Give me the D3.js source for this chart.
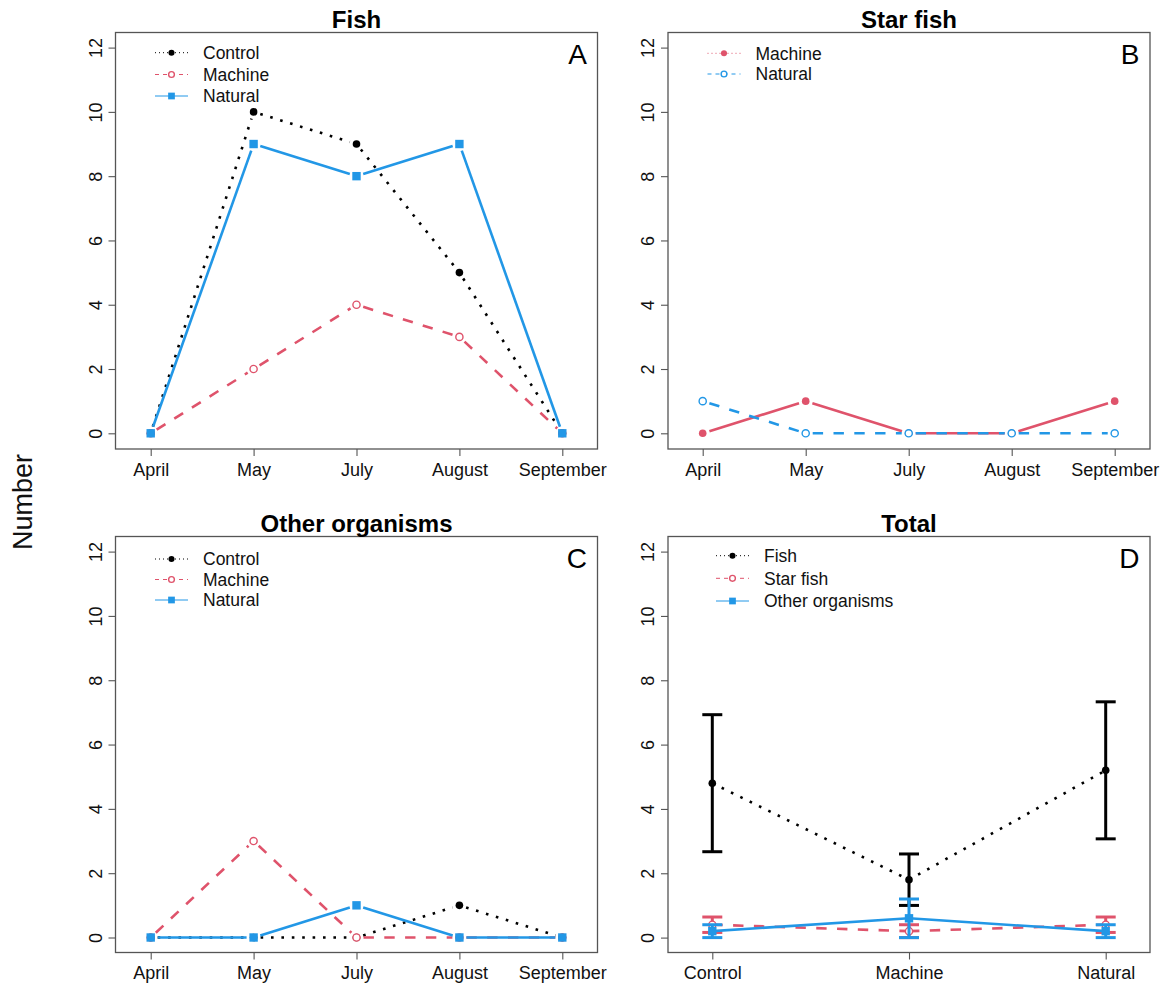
<!DOCTYPE html>
<html>
<head>
<meta charset="utf-8">
<script src="https://cdn.jsdelivr.net/npm/d3@7"></script>
<style>
  body { margin: 0; background: #fff; }
  text { font-family: "Liberation Sans", Arial, sans-serif; }
</style>
</head>
<body>
<script>
// monthly counts per treatment
var months = ["April", "May", "July", "August", "September"];
var fishControl = [0, 10, 9, 5, 0];
var fishMachine = [0, 2, 4, 3, 0];
var fishNatural = [0, 9, 8, 9, 0];
var starMachine = [0, 1, 0, 0, 1];
var starNatural = [1, 0, 0, 0, 0];
var otherControl = [0, 0, 0, 1, 0];
var otherMachine = [0, 3, 0, 0, 0];
var otherNatural = [0, 0, 1, 0, 0];

// totals: mean and error bar ends per treatment
var treatments = ["Control", "Machine", "Natural"];
var totalFishMean = [4.8, 1.8, 5.2];
var totalFishLow = [2.67, 1.0, 3.07];
var totalFishHigh = [6.93, 2.6, 7.33];
var totalStarMean = [0.4, 0.2, 0.4];
var totalStarLow = [0.16, 0, 0.16];
var totalStarHigh = [0.64, 0.4, 0.64];
var totalOtherMean = [0.2, 0.6, 0.2];
var totalOtherLow = [0, 0, 0];
var totalOtherHigh = [0.4, 1.2, 0.4];

var yTicks = [0, 2, 4, 6, 8, 10, 12];

var BLACK = "#000000", RED = "#DF536B", BLUE = "#2297E6";
var lwd = 2.6;
function dashFor(lty, w) {
  if (lty === "dotted") return (1 * w) + "," + (3 * w);
  if (lty === "dashed") return (4 * w) + "," + (4 * w);
  return null;
}

var w = 1168, h = 990;
var svg = d3.select("body").append("svg").attr("width", w).attr("height", h);

var panels = [
  {
    title: "Fish", letter: "A", cats: months,
    box: [115.5, 597.5, 32.5, 449], xr: [150.7, 562.3], yr: [433.3, 47.6], gap: true,
    series: [
      { name: "Control", values: fishControl, color: BLACK, lty: "dotted", pch: "dot" },
      { name: "Machine", values: fishMachine, color: RED, lty: "dashed", pch: "open" },
      { name: "Natural", values: fishNatural, color: BLUE, lty: "solid", pch: "square" }
    ],
    legendRows: [52.7, 74.5, 96]
  },
  {
    title: "Star fish", letter: "B", cats: months,
    box: [668, 1150, 32.5, 449], xr: [702.7, 1114.7], yr: [433.3, 47.6], gap: true,
    series: [
      { name: "Machine", values: starMachine, color: RED, lty: "solid", pch: "dot", legLty: "dotted" },
      { name: "Natural", values: starNatural, color: BLUE, lty: "dashed", pch: "open" }
    ],
    legendRows: [53.3, 74]
  },
  {
    title: "Other organisms", letter: "C", cats: months,
    box: [115.5, 597.5, 536.5, 952.5], xr: [150.7, 562.3], yr: [937.5, 551.6], gap: true,
    series: [
      { name: "Control", values: otherControl, color: BLACK, lty: "dotted", pch: "dot" },
      { name: "Machine", values: otherMachine, color: RED, lty: "dashed", pch: "open" },
      { name: "Natural", values: otherNatural, color: BLUE, lty: "solid", pch: "square" }
    ],
    legendRows: [559, 579.5, 600]
  },
  {
    title: "Total", letter: "D", cats: treatments,
    box: [668, 1150, 536.5, 952.5], xr: [712.3, 1105.7], yr: [937.6, 551.6], gap: false,
    series: [
      { name: "Fish", values: totalFishMean, low: totalFishLow, high: totalFishHigh, color: BLACK, lty: "dotted", pch: "dot" },
      { name: "Star fish", values: totalStarMean, low: totalStarLow, high: totalStarHigh, color: RED, lty: "dashed", pch: "open" },
      { name: "Other organisms", values: totalOtherMean, low: totalOtherLow, high: totalOtherHigh, color: BLUE, lty: "solid", pch: "square" }
    ],
    legendRows: [555.7, 578.3, 601],
    legendX: 716
  }
];

function drawMarker(g, pch, x, y, color, size) {
  if (pch === "dot") {
    g.append("circle").attr("cx", x).attr("cy", y).attr("r", 3.8 * size).attr("fill", color);
  } else if (pch === "open") {
    g.append("circle").attr("cx", x).attr("cy", y).attr("r", 3.6 * size)
      .attr("fill", "#fff").attr("stroke", color).attr("stroke-width", 1.4);
  } else {
    var s = 8.4 * size;
    g.append("rect").attr("x", x - s / 2).attr("y", y - s / 2).attr("width", s).attr("height", s)
      .attr("fill", color);
  }
}

panels.forEach(function (p) {
  var g = svg.append("g");
  var x = d3.scalePoint().domain(p.cats).range(p.xr);
  var y = d3.scaleLinear().domain([0, 12]).range(p.yr);
  var b = p.box;

  // x axis
  var xa = g.append("g").attr("transform", "translate(0," + b[3] + ")")
    .call(d3.axisBottom(x).tickSizeInner(7).tickSizeOuter(0).tickPadding(7));
  xa.select(".domain").remove();
  xa.selectAll("line").attr("stroke", "#555").attr("stroke-width", 1.1);
  xa.selectAll("text").attr("font-size", 18).attr("fill", "#111")
    .style("font-family", "'Liberation Sans', Arial, sans-serif");

  // y axis (labels rotated like R's las=0)
  var ya = g.append("g").attr("transform", "translate(" + b[0] + ",0)")
    .call(d3.axisLeft(y).tickValues(yTicks).tickSizeInner(7).tickSizeOuter(0));
  ya.select(".domain").remove();
  ya.selectAll("line").attr("stroke", "#555").attr("stroke-width", 1.1);
  ya.selectAll("text").attr("font-size", 18).attr("fill", "#111")
    .style("font-family", "'Liberation Sans', Arial, sans-serif")
    .attr("x", null).attr("dy", null).attr("text-anchor", "middle")
    .attr("transform", "translate(-14,0) rotate(-90)");

  // box
  g.append("rect").attr("x", b[0]).attr("y", b[2]).attr("width", b[1] - b[0]).attr("height", b[3] - b[2])
    .attr("fill", "none").attr("stroke", "#555").attr("stroke-width", 1.3);

  // title and letter
  g.append("text").attr("x", (b[0] + b[1]) / 2).attr("y", b[2] - 4.5)
    .attr("text-anchor", "middle").attr("font-size", 24).attr("font-weight", "bold").text(p.title);
  g.append("text").attr("x", b[1] - 10.5).attr("y", b[2] + 31)
    .attr("text-anchor", "end").attr("font-size", 28).text(p.letter);

  // series
  p.series.forEach(function (s) {
    var pts = s.values.map(function (v, i) { return [x(p.cats[i]), y(v)]; });
    var sg = g.append("g");

    if (s.low) {
      var cap = 10;
      s.values.forEach(function (v, i) {
        var cx = x(p.cats[i]);
        var y1 = y(s.low[i]), y2 = y(s.high[i]);
        sg.append("line").attr("x1", cx).attr("x2", cx).attr("y1", y1).attr("y2", y2)
          .attr("stroke", s.color).attr("stroke-width", 3);
        [y1, y2].forEach(function (yy) {
          sg.append("line").attr("x1", cx - cap).attr("x2", cx + cap).attr("y1", yy).attr("y2", yy)
            .attr("stroke", s.color).attr("stroke-width", 3);
        });
      });
    }

    for (var i = 0; i < pts.length - 1; i++) {
      var a = pts[i], c = pts[i + 1];
      var dx = c[0] - a[0], dy = c[1] - a[1];
      var len = Math.sqrt(dx * dx + dy * dy);
      var gap = p.gap ? 7 : 0;
      if (len <= 2 * gap) continue;
      var ux = dx / len, uy = dy / len;
      sg.append("line")
        .attr("x1", a[0] + ux * gap).attr("y1", a[1] + uy * gap)
        .attr("x2", c[0] - ux * gap).attr("y2", c[1] - uy * gap)
        .attr("stroke", s.color).attr("stroke-width", lwd)
        .attr("stroke-dasharray", dashFor(s.lty, lwd));
    }
    pts.forEach(function (pt) { drawMarker(sg, s.pch, pt[0], pt[1], s.color, 1); });
  });

  // legend
  var lx = p.legendX || (b[0] + 39.5);
  p.series.forEach(function (s, i) {
    var ly = p.legendRows[i];
    var lg = g.append("g");
    lg.append("line").attr("x1", lx).attr("x2", lx + 33).attr("y1", ly).attr("y2", ly)
      .attr("stroke", s.color).attr("stroke-width", 1)
      .attr("stroke-dasharray", dashFor(s.legLty || s.lty, 1));
    drawMarker(lg, s.pch, lx + 16.5, ly, s.color, 0.8);
    lg.append("text").attr("x", lx + 48).attr("y", ly).attr("dy", "0.36em")
      .attr("font-size", 17.5).attr("fill", "#111").text(s.name);
  });
});

// shared y label
svg.append("text").attr("transform", "translate(32,502) rotate(-90)")
  .attr("text-anchor", "middle").attr("font-size", 27).attr("fill", "#111").text("Number");
</script>
</body>
</html>
